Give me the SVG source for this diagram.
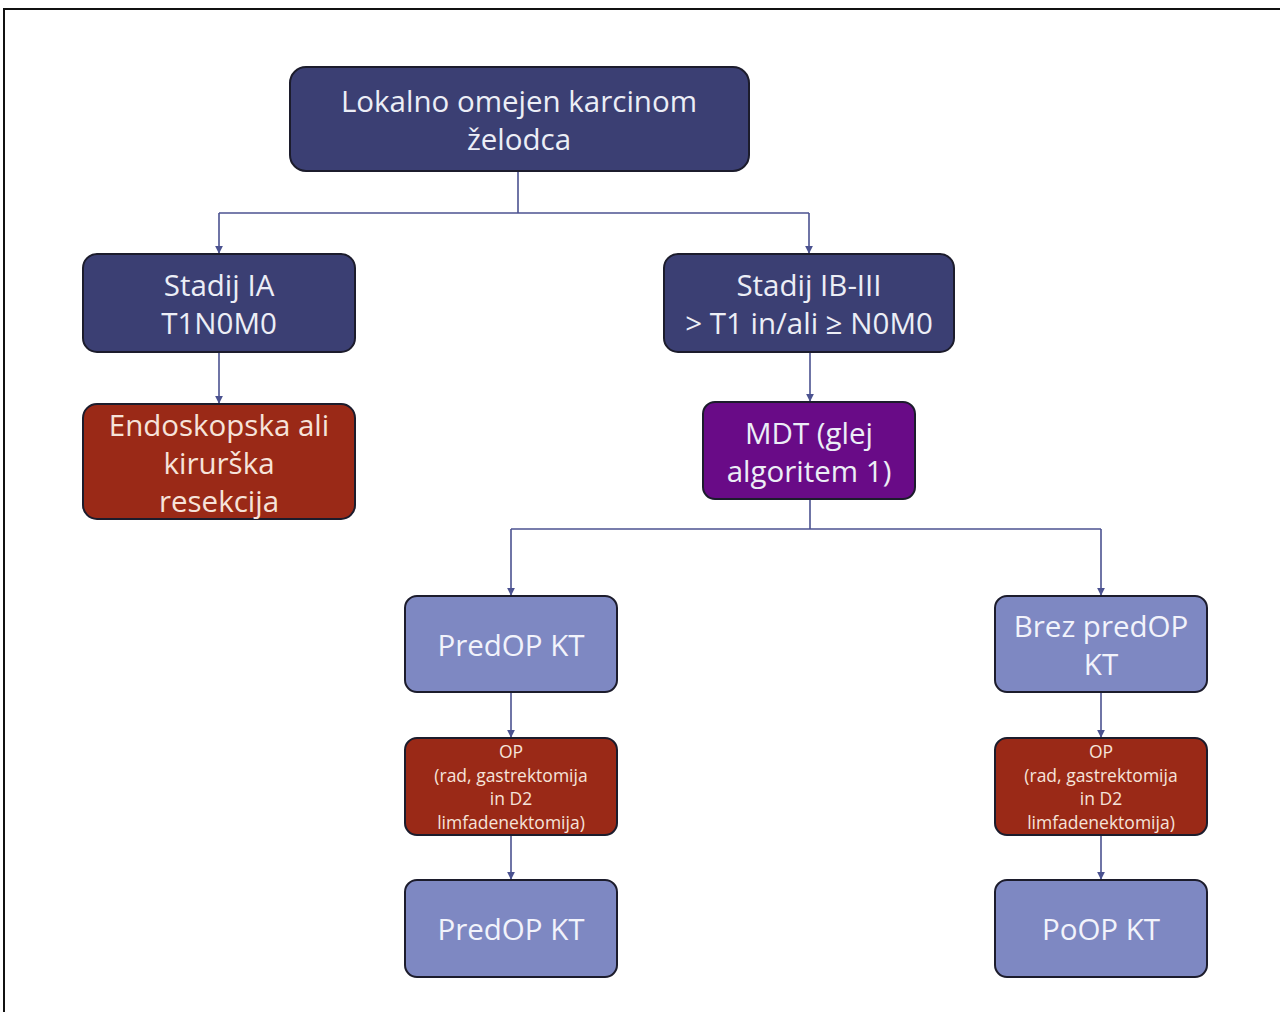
<svg xmlns="http://www.w3.org/2000/svg" width="1280" height="1012" viewBox="0 0 1280 1012">
<style>
.n rect{stroke:#1c1c2c;stroke-width:2}
.dark{fill:#3b3f73}
.red{fill:#9a2917}
.pur{fill:#690b87}
.lt{fill:#7e88c2}
text{font-family:"Open Sans","Noto Sans","Liberation Sans",sans-serif;text-anchor:middle;dominant-baseline:central}
.t{font-size:29.5px;fill:#eceef6}
.tr{font-size:29.5px;fill:#f6e3da}
.ts{font-size:17.5px;fill:#f6e3da}
.tl{font-size:29.5px;fill:#f2f3fb}
.c{fill:none;stroke:#4b5290;stroke-width:1.6}
</style>
<defs>
<marker id="a" viewBox="0 0 10 10" refX="9" refY="5" markerWidth="8" markerHeight="8" orient="auto" markerUnits="userSpaceOnUse">
<path d="M0,0 L10,5 L0,10 z" fill="#4b5290"/>
</marker>
</defs>
<rect x="0" y="0" width="1280" height="1012" fill="#fff"/>
<path d="M4,1012 V9 H1280" fill="none" stroke="#111" stroke-width="2"/>
<g id="connectors">
<path class="c" d="M518,171 V213"/>
<path class="c" d="M219,213 H809"/>
<path class="c" d="M219,213 V253" marker-end="url(#a)"/>
<path class="c" d="M809,213 V253" marker-end="url(#a)"/>
<path class="c" d="M219,352 V403" marker-end="url(#a)"/>
<path class="c" d="M810,352 V401" marker-end="url(#a)"/>
<path class="c" d="M810,499 V529"/>
<path class="c" d="M511,529 H1101"/>
<path class="c" d="M511,529 V595" marker-end="url(#a)"/>
<path class="c" d="M1101,529 V595" marker-end="url(#a)"/>
<path class="c" d="M511,692 V737" marker-end="url(#a)"/>
<path class="c" d="M1101,692 V737" marker-end="url(#a)"/>
<path class="c" d="M511,835 V879" marker-end="url(#a)"/>
<path class="c" d="M1101,835 V879" marker-end="url(#a)"/>
</g>
<g id="n-top" class="n">
<rect class="dark" x="290" y="67" width="459" height="104" rx="16"/>
<text class="t" x="519" y="100">Lokalno omejen karcinom</text>
<text class="t" x="519" y="138">želodca</text>
</g>
<g id="n-ia" class="n">
<rect class="dark" x="83" y="254" width="272" height="98" rx="14"/>
<text class="t" x="219" y="284">Stadij IA</text>
<text class="t" x="219" y="322">T1N0M0</text>
</g>
<g id="n-endo" class="n">
<rect class="red" x="83" y="404" width="272" height="115" rx="14"/>
<text class="tr" x="219" y="424">Endoskopska ali</text>
<text class="tr" x="219" y="462">kirurška</text>
<text class="tr" x="219" y="500">resekcija</text>
</g>
<g id="n-ib" class="n">
<rect class="dark" x="664" y="254" width="290" height="98" rx="14"/>
<text class="t" x="809" y="284">Stadij IB-III</text>
<text class="t" x="809" y="322">&gt; T1 in/ali ≥ N0M0</text>
</g>
<g id="n-mdt" class="n">
<rect class="pur" x="703" y="402" width="212" height="97" rx="12"/>
<text class="t" x="809" y="432">MDT (glej</text>
<text class="t" x="809" y="470">algoritem 1)</text>
</g>
<g id="n-predop1" class="n">
<rect class="lt" x="405" y="596" width="212" height="96" rx="12"/>
<text class="tl" x="511" y="644">PredOP KT</text>
</g>
<g id="n-brez" class="n">
<rect class="lt" x="995" y="596" width="212" height="96" rx="12"/>
<text class="tl" x="1101" y="625">Brez predOP</text>
<text class="tl" x="1101" y="663">KT</text>
</g>
<g id="n-op1" class="n">
<rect class="red" x="405" y="738" width="212" height="97" rx="12"/>
<text class="ts" x="511" y="751">OP</text>
<text class="ts" x="511" y="775">(rad, gastrektomija</text>
<text class="ts" x="511" y="798">in D2</text>
<text class="ts" x="511" y="822">limfadenektomija)</text>
</g>
<g id="n-op2" class="n">
<rect class="red" x="995" y="738" width="212" height="97" rx="12"/>
<text class="ts" x="1101" y="751">OP</text>
<text class="ts" x="1101" y="775">(rad, gastrektomija</text>
<text class="ts" x="1101" y="798">in D2</text>
<text class="ts" x="1101" y="822">limfadenektomija)</text>
</g>
<g id="n-predop2" class="n">
<rect class="lt" x="405" y="880" width="212" height="97" rx="12"/>
<text class="tl" x="511" y="928">PredOP KT</text>
</g>
<g id="n-poop" class="n">
<rect class="lt" x="995" y="880" width="212" height="97" rx="12"/>
<text class="tl" x="1101" y="928">PoOP KT</text>
</g>
</svg>
